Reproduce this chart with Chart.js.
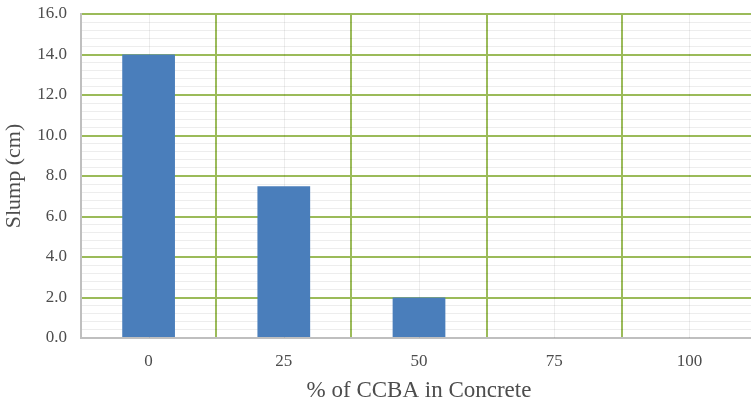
<!DOCTYPE html>
<html>
<head>
<meta charset="utf-8">
<script src="https://cdn.jsdelivr.net/npm/chart.js@4/dist/chart.umd.min.js"></script>
<style>
  html, body { margin: 0; padding: 0; background: #fff; overflow: hidden; }
  #wrap { width: 757px; height: 403px; position: relative; }
</style>
</head>
<body>
<div id="wrap"><canvas id="c"></canvas></div>
<script>
// Slump of concrete vs. CCBA replacement level
const categories = ['0', '25', '50', '75', '100'];
const slump = [14.0, 7.5, 2.0, 0, 0];
const yMin = 0, yMax = 16, majorStep = 2, minorStep = 0.4;

const GREEN = '#9BBB59';
const AXIS_GREY = '#BFBFBF';
const MINOR_GREY = 'rgba(0,0,0,0.07)';
const TEXT = '#4D4D4D';
const SERIF = '"Liberation Serif", "Times New Roman", serif';

const isMajor = v => Math.abs(v / majorStep - Math.round(v / majorStep)) < 1e-6;

// faint lines through the centre of each category
const centreLines = {
  id: 'centreLines',
  beforeDatasetsDraw(chart) {
    const { ctx, chartArea, scales } = chart;
    ctx.save();
    ctx.strokeStyle = MINOR_GREY;
    ctx.lineWidth = 1;
    categories.forEach((c, i) => {
      const x = Math.round(scales.x.getPixelForValue(i)) + 0.5;
      ctx.beginPath();
      ctx.moveTo(x, chartArea.top);
      ctx.lineTo(x, chartArea.bottom);
      ctx.stroke();
    });
    ctx.restore();
  }
};

new Chart(document.getElementById('c'), {
  type: 'bar',
  data: {
    labels: categories,
    datasets: [{
      data: slump,
      backgroundColor: '#4A7EBB',
      barPercentage: 0.39,
      categoryPercentage: 1.0
    }]
  },
  options: {
    responsive: true,
    maintainAspectRatio: false,
    animation: false,
    layout: { padding: { top: 14, left: 0, right: 0, bottom: 0 } },
    plugins: { legend: { display: false }, tooltip: { enabled: false } },
    scales: {
      x: {
        offset: true,
        grid: {
          offset: true,
          drawTicks: false,
          lineWidth: 2,
          color: ctx => ctx.index === 0 ? 'rgba(0,0,0,0)' : GREEN
        },
        border: { display: true, color: AXIS_GREY, width: 2 },
        ticks: { color: TEXT, font: { family: SERIF, size: 17 }, padding: 13 },
        title: {
          display: true, text: '% of CCBA in Concrete', color: TEXT,
          font: { family: SERIF, size: 23, lineHeight: 1.04 }, padding: { top: 0, bottom: 0 }
        },
        afterFit(scale) {
          scale.height = 65;
          scale.paddingLeft = 0;
          scale.paddingRight = 0;
        }
      },
      y: {
        min: yMin, max: yMax,
        ticks: {
          stepSize: minorStep,
          autoSkip: false,
          color: TEXT,
          font: { family: SERIF, size: 17 },
          padding: 14,
          callback: v => isMajor(v) ? v.toFixed(1) : ''
        },
        grid: {
          drawTicks: false,
          color: ctx => {
            const v = ctx.tick ? ctx.tick.value : 0;
            if (v <= 0) return 'rgba(0,0,0,0)';
            return isMajor(v) ? GREEN : MINOR_GREY;
          },
          lineWidth: ctx => (ctx.tick && isMajor(ctx.tick.value)) ? 2 : 1
        },
        border: { display: true, color: AXIS_GREY, width: 2 },
        title: {
          display: true, text: 'Slump (cm)', color: TEXT,
          font: { family: SERIF, size: 22 }, padding: { top: 1, bottom: 0 }
        },
        afterFit(scale) {
          scale.width = 81;
          scale.paddingTop = 0;
          scale.paddingBottom = 0;
        }
      }
    }
  },
  plugins: [centreLines]
});
</script>
</body>
</html>
